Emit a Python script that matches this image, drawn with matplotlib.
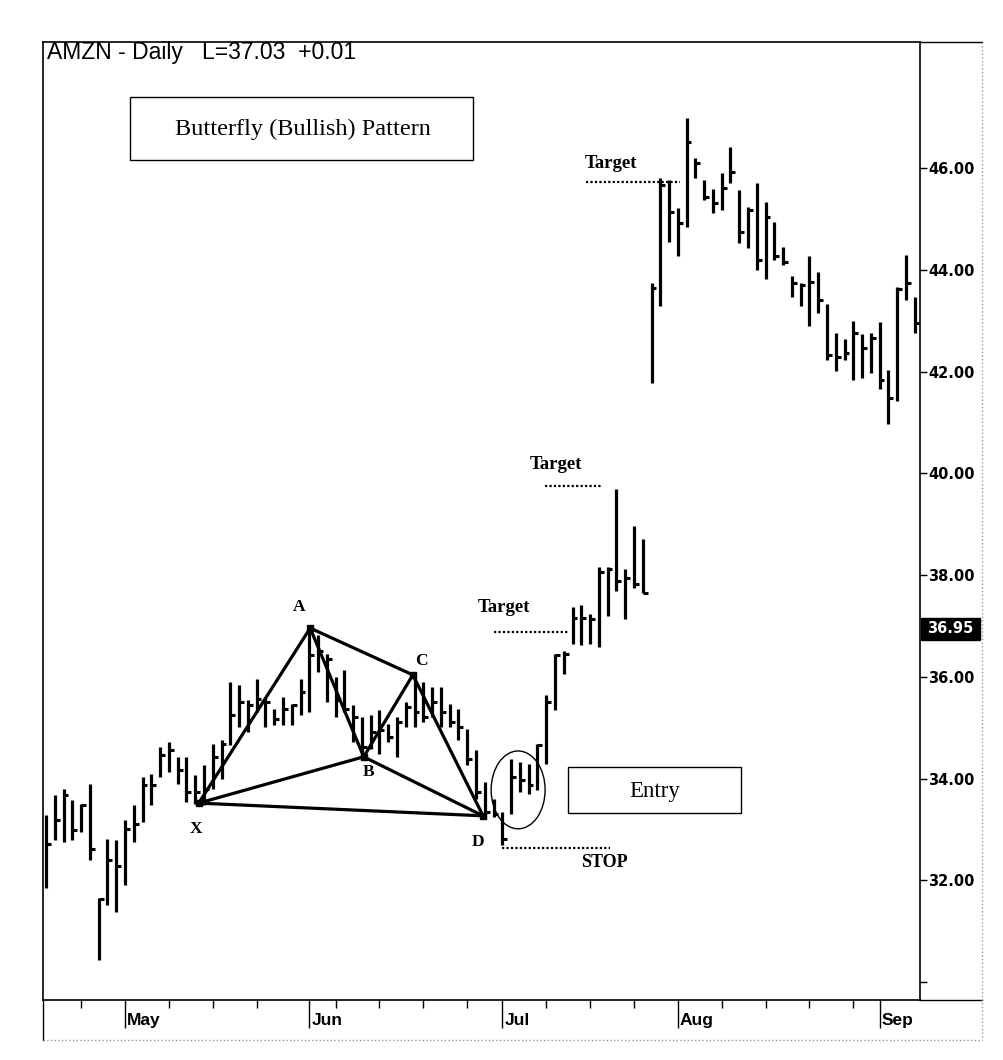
import numpy as np
import pandas as pd
import matplotlib
matplotlib.use("Agg")
import matplotlib.pyplot as plt
from matplotlib.patches import Ellipse, Rectangle
from matplotlib.lines import Line2D

# ---------------- data ----------------
holidays = ["2005-05-30", "2005-07-04", "2005-09-05"]
dates = pd.bdate_range("2005-04-19", "2005-09-08")
dates = dates[~dates.isin(pd.to_datetime(holidays))]

highs = [33.28, 33.68, 33.79, 33.58, 33.50, 33.89, 31.66, 32.81, 32.79, 33.18,
         33.48, 34.03, 34.09, 34.62, 34.72, 34.43, 34.43, 34.07, 34.27, 34.68,
         34.76, 35.91, 35.85, 35.55, 35.96, 35.61, 35.37, 35.61, 35.47, 35.96,
         36.93, 36.83, 36.46, 36.00, 36.14, 35.45, 35.21, 35.25, 35.35, 35.08,
         35.21, 35.51, 36.00, 35.90, 35.81, 35.81, 35.47, 35.37, 34.98, 34.56,
         33.93, 33.60, 33.34, 34.39, 34.33, 34.29, 34.68, 35.65, 36.46, 36.50,
         37.38, 37.42, 37.23, 38.17, 38.17, 39.69, 38.13, 38.96, 38.71, 43.74,
         45.80, 45.76, 45.21, 46.98, 46.20, 45.76, 45.60, 45.90, 46.42, 45.57,
         45.23, 45.70, 45.33, 44.94, 44.45, 43.89, 43.74, 44.27, 43.95, 43.34,
         42.77, 42.65, 42.99, 42.75, 42.77, 42.97, 42.04, 43.66, 44.29, 43.46]
lows = [31.86, 32.79, 32.75, 32.79, 32.95, 32.41, 30.44, 31.51, 31.37, 31.92,
        32.75, 33.14, 33.48, 34.03, 34.13, 33.89, 33.54, 33.50, 33.48, 33.79,
        33.99, 34.66, 35.02, 34.92, 35.31, 35.02, 35.06, 35.06, 35.06, 35.25,
        35.31, 36.10, 35.51, 35.21, 35.31, 34.72, 34.39, 34.58, 34.49, 34.72,
        34.43, 35.02, 35.02, 35.12, 35.21, 35.02, 35.02, 34.76, 34.27, 33.60,
        33.20, 33.25, 32.69, 33.30, 33.74, 33.70, 33.78, 34.29, 35.35, 36.06,
        36.65, 36.63, 36.65, 36.59, 37.19, 37.68, 37.13, 37.74, 37.64, 41.78,
        43.30, 44.54, 44.28, 44.84, 45.80, 45.37, 45.11, 45.17, 45.70, 44.52,
        44.44, 43.99, 43.83, 44.19, 44.09, 43.46, 43.30, 42.89, 43.16, 42.22,
        42.02, 42.22, 41.84, 41.88, 41.98, 41.66, 40.97, 41.43, 43.40, 42.77]
closes = [32.71, 33.18, 33.68, 32.99, 33.48, 32.61, 31.63, 32.41, 32.28, 33.01,
          33.10, 33.87, 33.87, 34.47, 34.56, 34.17, 33.74, 33.74, 33.79, 34.43,
          34.68, 35.25, 35.51, 35.45, 35.57, 35.51, 35.18, 35.37, 35.45, 35.71,
          36.44, 36.50, 36.36, 35.55, 35.37, 35.21, 34.62, 34.92, 34.96, 34.82,
          35.12, 35.41, 35.31, 35.21, 35.51, 35.31, 35.12, 35.02, 34.39, 33.74,
          33.34, 33.30, 32.81, 34.03, 33.97, 33.87, 34.66, 35.51, 36.44, 36.46,
          37.15, 37.15, 37.13, 38.07, 38.13, 37.88, 37.94, 37.82, 37.64, 43.64,
          45.66, 45.13, 44.92, 46.52, 46.10, 45.43, 45.31, 45.62, 45.92, 44.74,
          45.17, 44.20, 45.04, 44.28, 44.15, 43.74, 43.70, 43.76, 43.40, 42.32,
          42.28, 42.36, 42.77, 42.47, 42.67, 41.84, 41.49, 43.62, 43.74, 42.95]

price_ticks = [32, 34, 36, 38, 40, 42, 44, 46]
last_price = 36.95

# butterfly pattern points (bar index, price)
pattern_names = ["X", "A", "B", "C", "D"]
pattern_x = [17.4, 30.1, 36.2, 41.8, 49.8]
pattern_y = [33.52, 36.96, 34.43, 36.04, 33.27]
pattern_segments = [("X", "A"), ("A", "B"), ("B", "C"), ("C", "D"),
                    ("A", "C"), ("X", "B"), ("B", "D"), ("X", "D")]

targets = [45.72, 39.75, 36.88]
stop_level = 32.64

# ---------------- figure ----------------
W, H = 1004, 1060
fig = plt.figure(figsize=(W / 100, H / 100), dpi=100)
fig.patch.set_facecolor("white")


def fx(px):
    return px / W


def fy(py):
    return 1 - py / H


L, R, T, B = 43, 920, 42, 1000
ax = fig.add_axes([fx(L), fy(B), fx(R) - fx(L), fy(T) - fy(B)])
x = np.arange(len(dates))

ax.vlines(x, lows, highs, color="black", lw=2.3)
ax.hlines(closes, x, x + 0.55, color="black", lw=2.2)

ax.set_xlim(-0.35, 99.6)
ax.set_ylim(29.65, 48.48)

# y axis on the right
ax.yaxis.tick_right()
ax.set_yticks([30] + price_ticks)
ax.set_yticklabels([""] + [f"{v:.2f}" for v in price_ticks],
                   fontsize=10.5, fontweight="bold", family="DejaVu Sans")
ax.tick_params(axis="y", direction="out", length=5, width=1, pad=1, colors="black")

# x axis: month ticks and weekly ticks
month_idx = [i for i in range(1, len(dates)) if dates[i].month != dates[i - 1].month]
week_idx = [i for i in range(len(dates)) if dates[i].weekday() == 0 and i not in month_idx]
ax.set_xticks(month_idx)
ax.set_xticklabels([])
ax.set_xticks(week_idx, minor=True)
ax.tick_params(axis="x", which="major", direction="out", length=20, width=1)
ax.tick_params(axis="x", which="minor", direction="out", length=6, width=1)
for i in month_idx:
    ax.text(i + 0.25, -0.021, dates[i].strftime("%b"), transform=ax.get_xaxis_transform(),
            ha="left", va="center", fontsize=12.5, fontweight="bold",
            family=["Liberation Sans Narrow", "Liberation Sans"])

for s in ax.spines.values():
    s.set_linewidth(1.2)
    s.set_color("black")

# pattern lines
pts = dict(zip(pattern_names, zip(pattern_x, pattern_y)))
for a, b in pattern_segments:
    ax.plot([pts[a][0], pts[b][0]], [pts[a][1], pts[b][1]], color="black", lw=2.3,
            solid_capstyle="round")
ax.plot(pattern_x, pattern_y, "s", color="black", ms=4)

label_off = {"X": (-0.3, -0.5), "A": (-1.3, 0.42), "B": (0.5, -0.3),
             "C": (1.0, 0.27), "D": (-0.6, -0.52)}
for n in pattern_names:
    dx, dy = label_off[n]
    ax.text(pts[n][0] + dx, pts[n][1] + dy, n, ha="center", va="center",
            fontsize=12.5, fontweight="bold", family="Liberation Serif")

# targets and stop
target_spans = [(61.5, 72.3), (56.9, 63.2), (51.0, 59.5)]
target_text = [(64.4, 46.10), (58.1, 40.17), (52.2, 37.36)]
for lvl, (x0, x1), (tx, ty) in zip(targets, target_spans, target_text):
    ax.plot([x0, x1], [lvl, lvl], color="black", lw=1.6, ls=(0, (1, 1)))
    ax.text(tx, ty, "Target", ha="center", va="center", fontsize=13.5,
            fontweight="bold", family="Liberation Serif")
ax.plot([52.0, 64.3], [stop_level, stop_level], color="black", lw=1.6, ls=(0, (1, 1)))
ax.text(63.6, 32.35, "STOP", ha="center", va="center", fontsize=13,
        fontweight="bold", family="Liberation Serif")

ax.add_patch(Ellipse((53.8, 33.78), 6.15, 1.53, fill=False, ec="black", lw=1.0))

# boxes
fig.patches.append(Rectangle((fx(130), fy(160)), fx(473) - fx(130), fy(97) - fy(160),
                             transform=fig.transFigure, fill=True, fc="white",
                             ec="black", lw=1.0, zorder=5))
fig.text(fx(303), fy(129), "Butterfly (Bullish) Pattern", ha="center", va="center",
         fontsize=17.5, family="Liberation Serif", zorder=6)
fig.patches.append(Rectangle((fx(568), fy(813)), fx(741) - fx(568), fy(767) - fy(813),
                             transform=fig.transFigure, fill=True, fc="white",
                             ec="black", lw=1.0, zorder=5))
fig.text(fx(655), fy(791), "Entry", ha="center", va="center",
         fontsize=16.5, family="Liberation Serif", zorder=6)

# title
fig.text(fx(47), fy(53), "AMZN - Daily   L=37.03  +0.01", ha="left", va="center",
         fontsize=16.5, family="Liberation Sans")

# last price box
yl = fy(B) + (last_price - 29.65) / (48.48 - 29.65) * (fy(T) - fy(B))
fig.patches.append(Rectangle((fx(921), yl - 11 / H), fx(980) - fx(921), 22 / H,
                             transform=fig.transFigure, fc="black", ec="black", zorder=5))
fig.text(fx(950), yl, f"{last_price:.2f}", ha="center", va="center", color="white",
         fontsize=10.5, fontweight="bold", zorder=6)

# outer frame extensions
for (x0, y0, x1, y1, st, c) in [
    (R, T, 982, T, "-", "black"),
    (R, B, 982, B, "-", "black"),
    (L, B, L, 1040, "-", "black"),
    (982, T, 982, 1040, ":", "#999999"),
    (L, 1040, 982, 1040, ":", "#999999"),
]:
    fig.add_artist(Line2D([fx(x0), fx(x1)], [fy(y0), fy(y1)], transform=fig.transFigure,
                          color=c, lw=1.0, ls=st))

fig.savefig("out.png", dpi=100, facecolor="white")
